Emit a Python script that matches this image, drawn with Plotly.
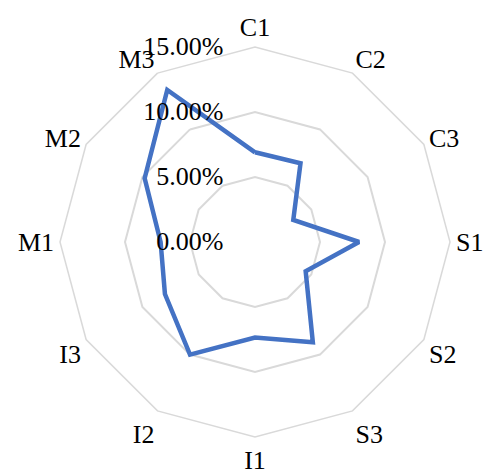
import plotly.graph_objects as go

# Indicator categories, clockwise from the top
categories = ["C1", "C2", "C3", "S1", "S2", "S3", "I1", "I2", "I3", "M1", "M2", "M3"]
# Share of each indicator (fraction)
shares = [0.069, 0.070, 0.034, 0.080, 0.045, 0.089, 0.0735, 0.100, 0.080, 0.0726, 0.098, 0.135]
# Radial tick values
radial_ticks = [0.0, 0.05, 0.10, 0.15]

font_family = "Liberation Serif, Times New Roman, serif"
grid_color = "#D9D9D9"

fig = go.Figure()
fig.add_trace(go.Scatterpolar(
    r=shares + shares[:1],
    theta=categories + categories[:1],
    mode="lines",
    line=dict(color="#4472C4", width=4.5),
    hoverinfo="skip",
    showlegend=False,
))

fig.update_layout(
    width=484,
    height=474,
    margin=dict(l=0, r=0, t=0, b=0),
    paper_bgcolor="white",
    font=dict(family=font_family, size=26, color="black"),
    polar=dict(
        domain=dict(x=[60 / 484, 450 / 484], y=[37 / 474, 427 / 474]),
        bgcolor="white",
        gridshape="linear",
        angularaxis=dict(
            direction="clockwise",
            rotation=90,
            showgrid=False,
            showline=True,
            linecolor=grid_color,
            linewidth=1.5,
            ticks="",
            tickfont=dict(family=font_family, size=26, color="black"),
        ),
        radialaxis=dict(
            range=[0, 0.15],
            tickvals=radial_ticks,
            tickformat=".2%",
            angle=90,
            tickangle=90,
            side="counterclockwise",
            showline=False,
            showgrid=True,
            gridcolor=grid_color,
            gridwidth=1.5,
            ticks="outside",
            ticklen=22,
            tickcolor="rgba(0,0,0,0)",
            tickfont=dict(family=font_family, size=26, color="black"),
        ),
    ),
)

fig.write_html("out.html")
